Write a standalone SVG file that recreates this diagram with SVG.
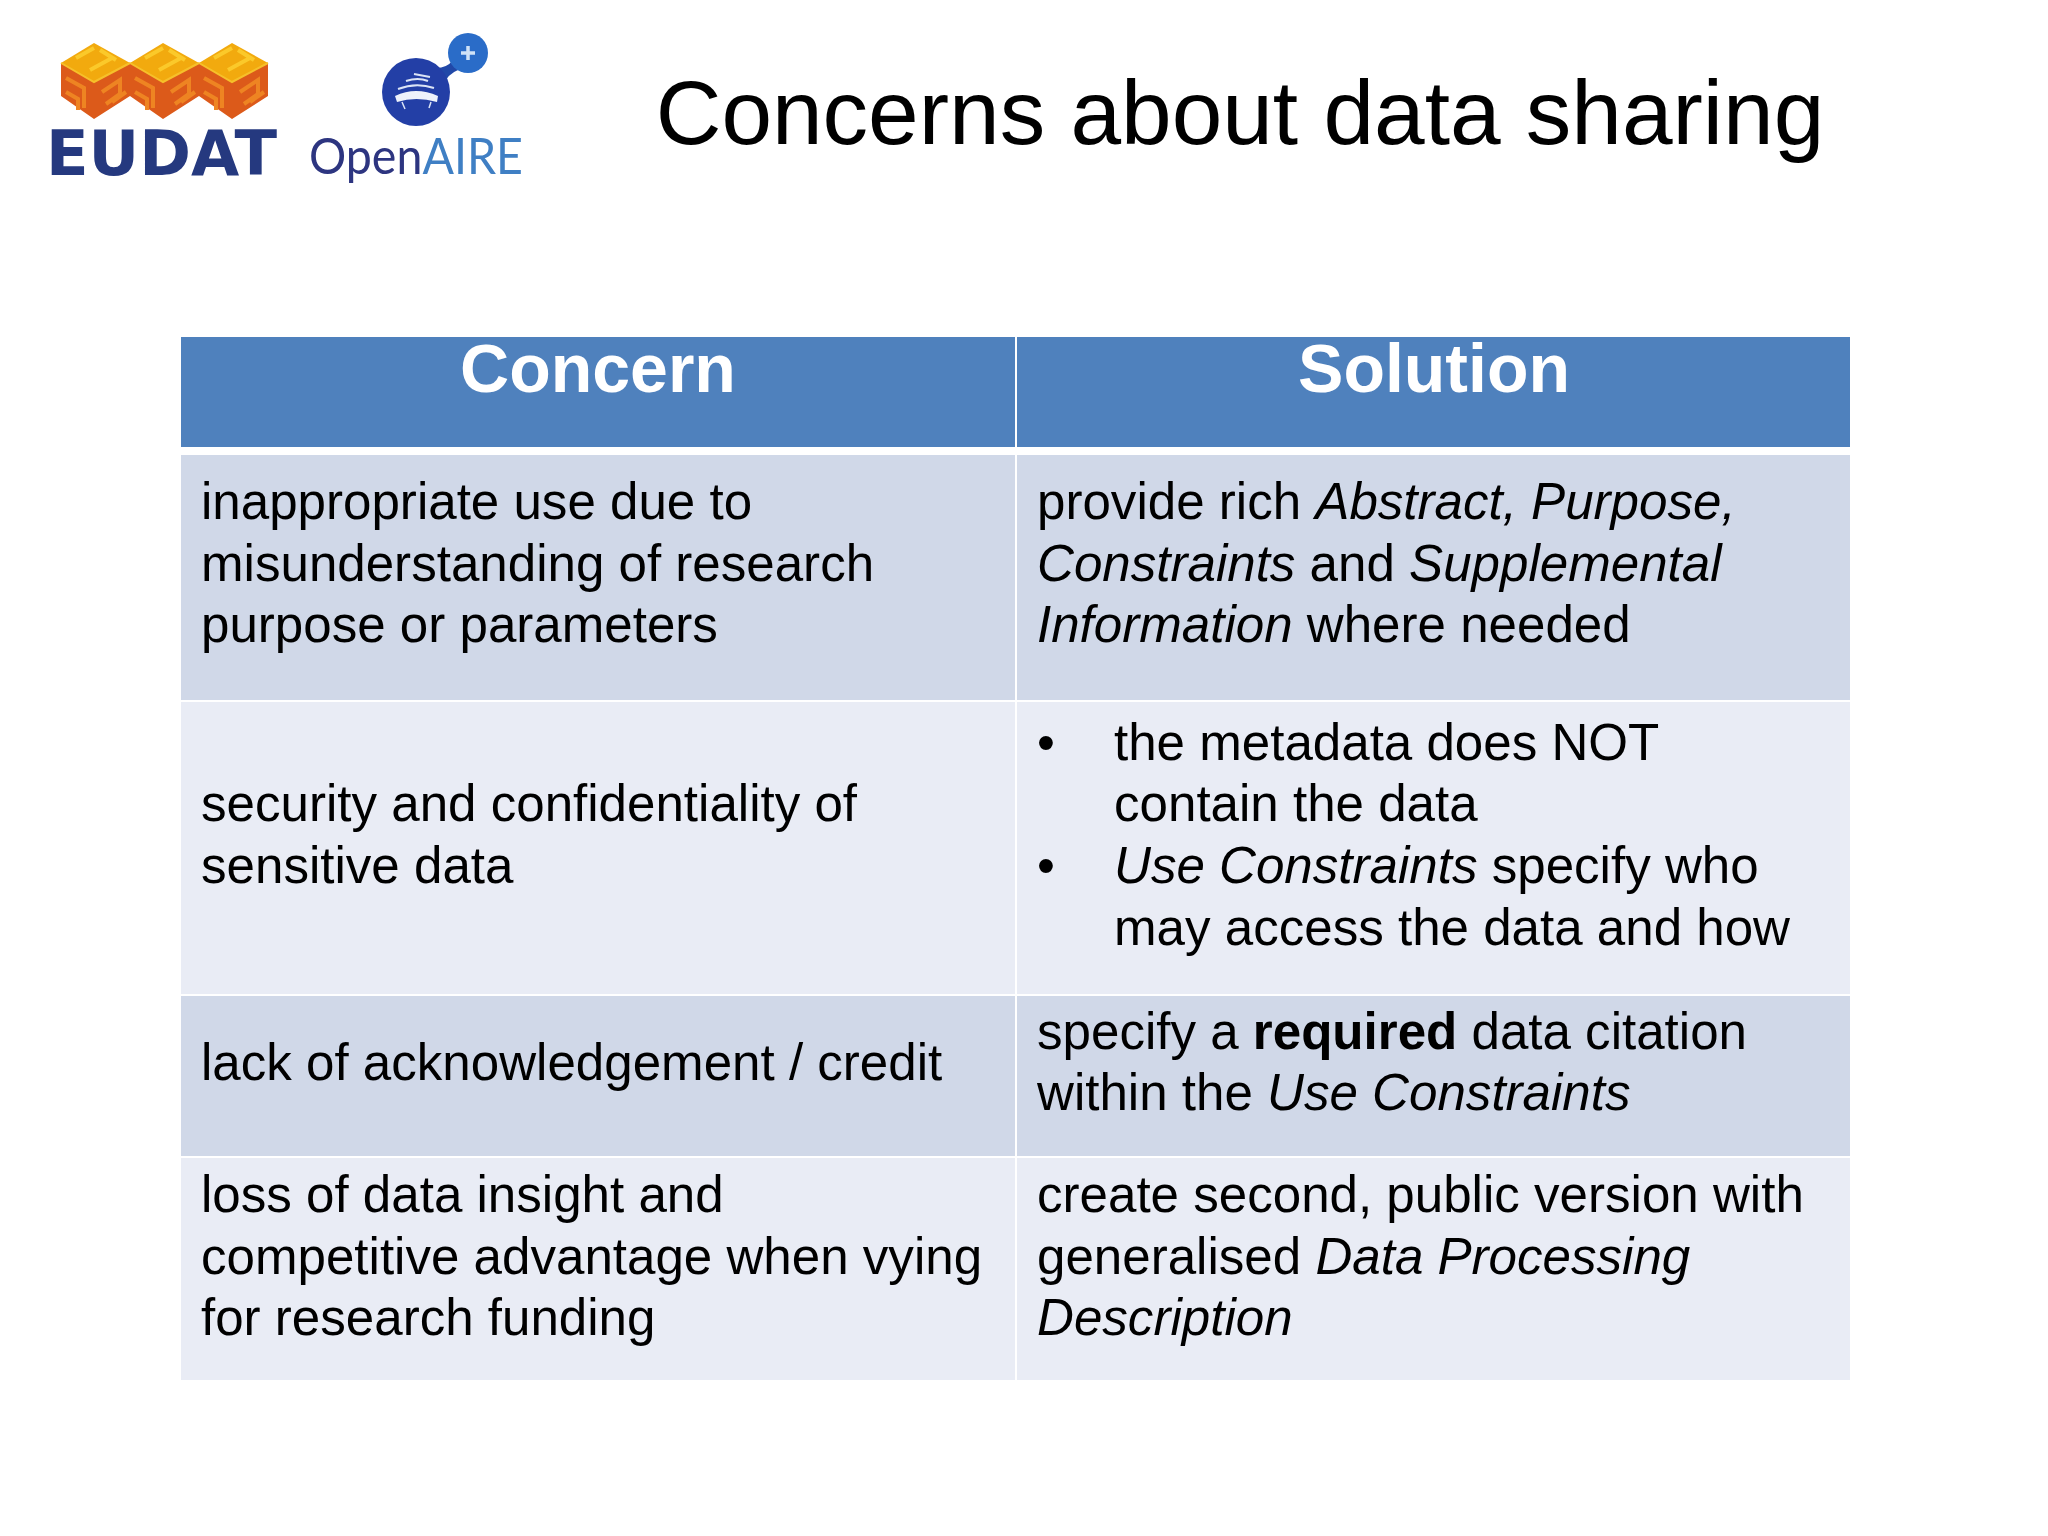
<svg xmlns="http://www.w3.org/2000/svg" width="2048" height="1536" viewBox="0 0 2048 1536">
<style>
text{font-family:"Liberation Sans",Arial,sans-serif;fill:#000}
.b{font-size:51.1px}
.h{font-size:68px;font-weight:700;fill:#fff;text-anchor:middle}
.i{font-style:italic}
.s{font-weight:700}
.top{fill:#f2aa0e}.side{fill:#dc5a1a}.lines{fill:none;stroke:#ee8422;stroke-width:4}
</style>
<defs>
<g id="cube">
<path class="side" d="M61 63L94 82L130 63V96L94 119L61 96Z"/>
<path class="top" d="M61 63L94 43L130 63L94 82Z"/>
<path d="M61 63L94 82L130 63" fill="none" stroke="#f6c02a" stroke-width="2"/>
<path class="lines" d="M66 78L84 88V108M66 92L78 99V110M102 92L120 80V94L106 104M112 102L126 92"/>
<path d="M76 58L94 48M90 70L112 58M100 50L116 60" fill="none" stroke="#fbc92a" stroke-width="4"/>
</g>
</defs>
<rect width="2048" height="1536" fill="#fff"/>
<g id="logo-eudat">
<use href="#cube"/><use href="#cube" x="69"/><use href="#cube" x="138"/>
<text x="46" y="175" font-size="63" textLength="231" lengthAdjust="spacingAndGlyphs" style="font-family:'DejaVu Sans',sans-serif;font-weight:700;fill:#25397f">EUDAT</text>
</g>
<g id="logo-openaire">
<path d="M436 68Q447 68 453 60L458 70Q448 74 444 84Z" fill="#2148a8"/>
<circle cx="416" cy="92" r="34" fill="#233fa6"/>
<circle cx="468" cy="53" r="20" fill="#2a6cc8"/>
<path d="M461 53H475M468 46V60" stroke="#cfe2f7" stroke-width="3.5" fill="none"/>
<path d="M395 96Q416 86 438 96L437 102Q416 96 397 102Z" fill="#eef2fb"/>
<path d="M398 89Q416 82 434 88M406 81Q418 77 428 81M414 74L430 77" fill="none" stroke="#dbe4f6" stroke-width="2"/>
<path d="M402 102L405 109M431 102L429 108" fill="none" stroke="#dbe4f6" stroke-width="1.5"/>
<text x="309" y="174" font-size="50" textLength="214" lengthAdjust="spacingAndGlyphs" style="font-family:Lato,sans-serif;fill:#2d3580">Open<tspan style="fill:#3f7fc4">AIRE</tspan></text>
</g>
<text id="title" x="1240" y="144" font-size="91" text-anchor="middle">Concerns about data sharing</text>
<g id="table-header">
<rect x="181" y="337" width="834" height="110" fill="#4f81bd"/>
<rect x="1017" y="337" width="833" height="110" fill="#4f81bd"/>
<text class="h" x="598" y="392">Concern</text>
<text class="h" x="1434" y="392">Solution</text>
</g>
<g id="row-1">
<rect x="181" y="455" width="834" height="245" fill="#d0d8e8"/>
<rect x="1017" y="455" width="833" height="245" fill="#d0d8e8"/>
<text class="b" x="201" y="519">inappropriate use due to</text>
<text class="b" x="201" y="581">misunderstanding of research</text>
<text class="b" x="201" y="642">purpose or parameters</text>
<text class="b" x="1037" y="519">provide rich <tspan class="i">Abstract, Purpose,</tspan></text>
<text class="b" x="1037" y="581"><tspan class="i">Constraints</tspan> and <tspan class="i">Supplemental</tspan></text>
<text class="b" x="1037" y="642"><tspan class="i">Information</tspan> where needed</text>
</g>
<g id="row-2">
<rect x="181" y="702" width="834" height="292" fill="#e9ecf5"/>
<rect x="1017" y="702" width="833" height="292" fill="#e9ecf5"/>
<text class="b" x="201" y="821">security and confidentiality of</text>
<text class="b" x="201" y="883">sensitive data</text>
<text class="b" x="1037" y="760">•</text>
<text class="b" x="1114" y="760">the metadata does NOT</text>
<text class="b" x="1114" y="821">contain the data</text>
<text class="b" x="1037" y="883">•</text>
<text class="b" x="1114" y="883"><tspan class="i">Use Constraints</tspan> specify who</text>
<text class="b" x="1114" y="945">may access the data and how</text>
</g>
<g id="row-3">
<rect x="181" y="996" width="834" height="160" fill="#d0d8e8"/>
<rect x="1017" y="996" width="833" height="160" fill="#d0d8e8"/>
<text class="b" x="201" y="1080">lack of acknowledgement / credit</text>
<text class="b" x="1037" y="1049">specify a <tspan class="s">required</tspan> data citation</text>
<text class="b" x="1037" y="1110">within the <tspan class="i">Use Constraints</tspan></text>
</g>
<g id="row-4">
<rect x="181" y="1158" width="834" height="222" fill="#e9ecf5"/>
<rect x="1017" y="1158" width="833" height="222" fill="#e9ecf5"/>
<text class="b" x="201" y="1212">loss of data insight and</text>
<text class="b" x="201" y="1274">competitive advantage when vying</text>
<text class="b" x="201" y="1335">for research funding</text>
<text class="b" x="1037" y="1212">create second, public version with</text>
<text class="b" x="1037" y="1274">generalised <tspan class="i">Data Processing</tspan></text>
<text class="b" x="1037" y="1335"><tspan class="i">Description</tspan></text>
</g>
</svg>
